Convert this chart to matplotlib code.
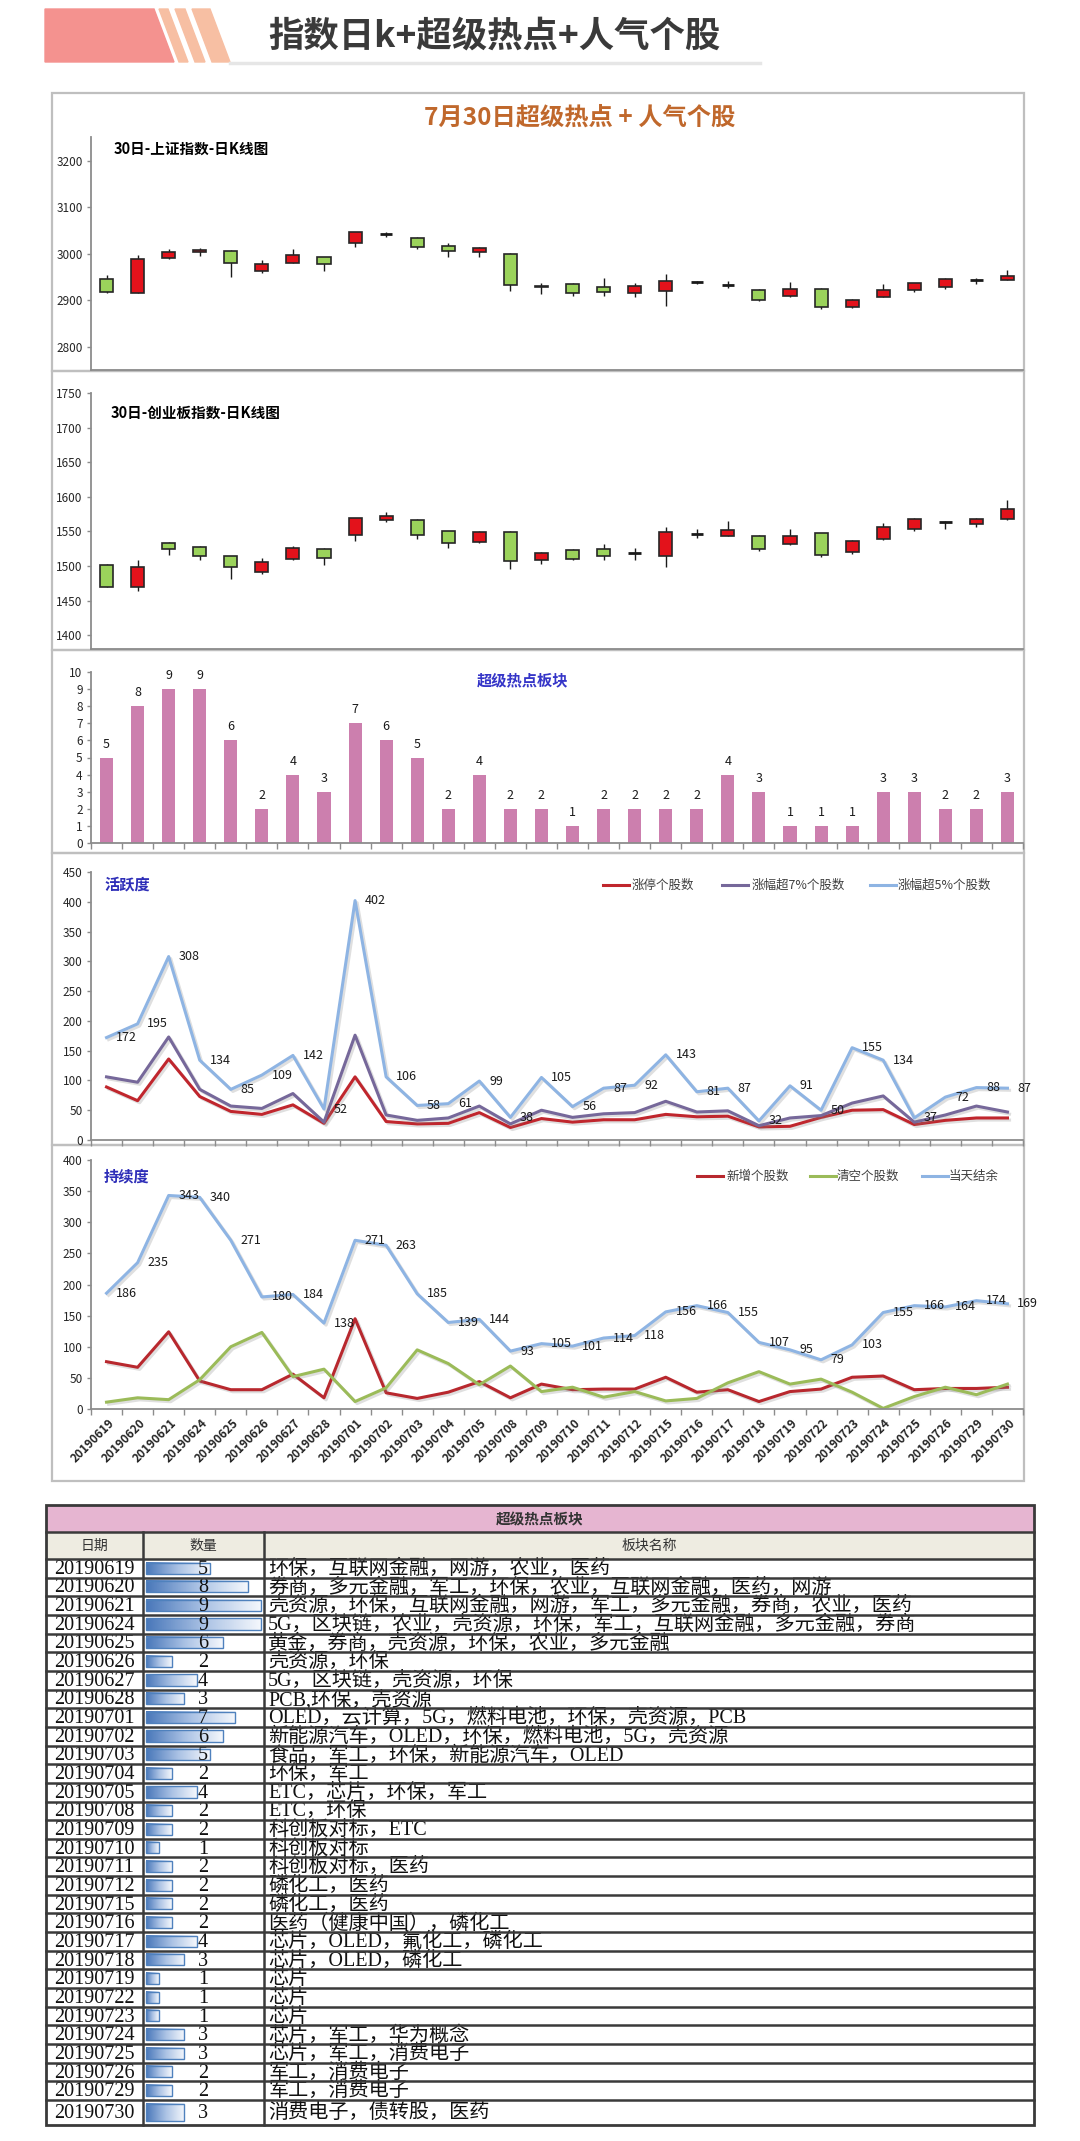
import numpy as np
import matplotlib.pyplot as plt
import matplotlib.patheffects as pe
from matplotlib.colors import LinearSegmentedColormap
from matplotlib.patches import Polygon, Rectangle
from matplotlib.transforms import ScaledTranslation

plt.rcParams['font.family'] = ['Noto Sans CJK SC', 'DejaVu Sans']

W, H = 1080, 2141

dates = ['20190619', '20190620', '20190621', '20190624', '20190625', '20190626',
         '20190627', '20190628', '20190701', '20190702', '20190703', '20190704',
         '20190705', '20190708', '20190709', '20190710', '20190711', '20190712',
         '20190715', '20190716', '20190717', '20190718', '20190719', '20190722',
         '20190723', '20190724', '20190725', '20190726', '20190729', '20190730']

# 上证指数 K线
sh_open = [2945, 2916, 2990, 3003, 3006, 2963, 2981, 2992, 3023, 3043, 3033, 3016, 3004, 2999, 2931,
           2936, 2929, 2915, 2920, 2939, 2933, 2923, 2910, 2925, 2886, 2908, 2923, 2928, 2942, 2944]
sh_close = [2917, 2989, 3003, 3009, 2981, 2978, 2998, 2978, 3046, 3044, 3015, 3005, 3012, 2933, 2929,
            2916, 2917, 2930, 2942, 2938, 2932, 2901, 2924, 2886, 2900, 2923, 2937, 2945, 2943, 2953]
sh_high = [2954, 2998, 3010, 3012, 3007, 2986, 3011, 2994, 3047, 3047, 3035, 3024, 3014, 3001, 2938,
           2937, 2947, 2938, 2956, 2941, 2942, 2924, 2940, 2927, 2902, 2936, 2938, 2948, 2948, 2965]
sh_low = [2915, 2915, 2989, 2995, 2949, 2959, 2980, 2962, 3015, 3035, 3010, 2992, 2992, 2920, 2913,
          2909, 2909, 2908, 2887, 2936, 2926, 2899, 2908, 2881, 2883, 2906, 2917, 2925, 2935, 2943]

# 创业板指数 K线
cy_open = [1502, 1470, 1533, 1528, 1514, 1491, 1510, 1525, 1545, 1566, 1567, 1550, 1535, 1549, 1508,
           1523, 1524, 1519, 1514, 1546, 1544, 1544, 1532, 1547, 1520, 1539, 1553, 1563, 1561, 1568]
cy_close = [1470, 1499, 1524, 1515, 1498, 1506, 1526, 1512, 1570, 1572, 1545, 1533, 1549, 1507, 1519,
            1510, 1514, 1518, 1549, 1546, 1552, 1525, 1544, 1516, 1536, 1556, 1568, 1564, 1568, 1582]
cy_high = [1503, 1508, 1535, 1529, 1515, 1512, 1529, 1526, 1570, 1578, 1568, 1551, 1551, 1550, 1520,
           1524, 1532, 1526, 1557, 1553, 1565, 1545, 1554, 1548, 1537, 1562, 1569, 1565, 1569, 1595]
cy_low = [1469, 1464, 1516, 1509, 1481, 1489, 1509, 1502, 1536, 1563, 1539, 1526, 1533, 1496, 1503,
          1508, 1509, 1508, 1498, 1540, 1543, 1522, 1531, 1513, 1518, 1538, 1551, 1553, 1556, 1567]

hot_count = [5, 8, 9, 9, 6, 2, 4, 3, 7, 6, 5, 2, 4, 2, 2, 1, 2, 2, 2, 2, 4, 3, 1, 1, 1, 3, 3, 2, 2, 3]

# 活跃度
zt_count = [89, 66, 136, 73, 48, 43, 59, 28, 106, 31, 27, 28, 46, 21, 36, 30, 34, 34, 43, 39,
            40, 22, 23, 38, 50, 51, 26, 33, 37, 37]
up7_count = [106, 97, 173, 85, 57, 53, 78, 30, 176, 42, 33, 37, 57, 27, 50, 38, 44, 46, 65, 47,
             49, 24, 37, 41, 62, 74, 30, 42, 57, 47]
up5_count = [172, 195, 308, 134, 85, 109, 142, 52, 402, 106, 58, 61, 99, 38, 105, 56, 87, 92, 143, 81,
             87, 32, 91, 50, 155, 134, 37, 72, 88, 87]

# 持续度
new_count = [76, 67, 124, 45, 31, 31, 56, 18, 145, 26, 17, 27, 44, 18, 40, 31, 32, 32, 51, 27,
             31, 12, 28, 32, 51, 53, 31, 33, 33, 35]
clear_count = [11, 18, 15, 47, 100, 123, 52, 64, 12, 34, 95, 73, 39, 69, 28, 35, 19, 28, 13, 17,
               42, 60, 40, 48, 27, 1, 20, 35, 23, 40]
remain_count = [186, 235, 343, 340, 271, 180, 184, 138, 271, 263, 185, 139, 144, 93, 105, 101, 114, 118,
                156, 166, 155, 107, 95, 79, 103, 155, 166, 164, 174, 169]

sectors = [
    '环保，互联网金融，网游，农业，医药',
    '券商，多元金融，军工，环保，农业，互联网金融，医药，网游',
    '壳资源，环保，互联网金融，网游，军工，多元金融，券商，农业，医药',
    '5G，区块链，农业，壳资源，环保，军工，互联网金融，多元金融，券商',
    '黄金，券商，壳资源，环保，农业，多元金融',
    '壳资源，环保',
    '5G，区块链，壳资源，环保',
    'PCB,环保，壳资源',
    'OLED，云计算，5G，燃料电池，环保，壳资源，PCB',
    '新能源汽车，OLED，环保，燃料电池，5G，壳资源',
    '食品，军工，环保，新能源汽车，OLED',
    '环保，军工',
    'ETC，芯片，环保，军工',
    'ETC，环保',
    '科创板对标，ETC',
    '科创板对标',
    '科创板对标，医药',
    '磷化工，医药',
    '磷化工，医药',
    '医药（健康中国），磷化工',
    '芯片，OLED，氟化工，磷化工',
    '芯片，OLED，磷化工',
    '芯片',
    '芯片',
    '芯片',
    '芯片，军工，华为概念',
    '芯片，军工，消费电子',
    '军工，消费电子',
    '军工，消费电子',
    '消费电子，债转股，医药',
]

x = np.arange(len(dates))
AXIS_C = '#8c8c8c'

fig = plt.figure(figsize=(W / 100, H / 100), dpi=100)
bg = fig.add_axes([0, 0, 1, 1], zorder=0)
bg.set_axis_off()


def make_ax(left, top, right, bottom, ylim, yticks):
    ax = fig.add_axes([left / W, 1 - bottom / H, (right - left) / W, (bottom - top) / H], zorder=1)
    ax.patch.set_alpha(0)
    for s in ['top', 'right']:
        ax.spines[s].set_visible(False)
    for s in ['left', 'bottom']:
        ax.spines[s].set_color(AXIS_C)
        ax.spines[s].set_linewidth(1.3)
    ax.set_xlim(-0.5, len(dates) - 0.5)
    ax.set_ylim(*ylim)
    ax.set_yticks(yticks)
    ax.tick_params(axis='y', labelsize=8.5, colors=AXIS_C, labelcolor='#262626', length=3, width=1, pad=3)
    return ax


def candles(ax, o, c, h, l):
    o, c = np.array(o), np.array(c)
    ax.vlines(x, l, h, color='#1a1a1a', lw=1, zorder=2)
    doji = np.abs(c - o) <= 1
    body = ~doji
    cols = np.where(c > o, '#E3121B', '#9BD35B')
    ax.bar(x[body], np.abs(c - o)[body], bottom=np.minimum(o, c)[body], width=0.42,
           color=cols[body], edgecolor='#262626', lw=1.2, zorder=3)
    ax.hlines(((o + c) / 2)[doji], x[doji] - 0.2, x[doji] + 0.2, color='#1a1a1a', lw=2, zorder=3)
    ax.set_xticks([])


def cat_ticks(ax):
    ax.set_xticks(np.arange(-0.5, len(dates), 1), minor=True)
    ax.tick_params(axis='x', which='minor', length=4, color=AXIS_C, width=1)


shadow = [pe.SimpleLineShadow(offset=(1.5, -1.5), alpha=0.25, shadow_color='gray'), pe.Normal()]

# ---- header ----
bg.add_patch(Polygon([(45, 9), (154, 9), (174, 62), (45, 62)], color='#F4928F'))
for a, b in [(159, 168), (175, 185), (192, 210)]:
    bg.add_patch(Polygon([(a, 9), (b, 9), (b + 20, 62), (a + 20, 62)], color='#F7BFA3'))
bg.plot([230, 760], [63, 63], color='#E6E6E6', lw=2.5)
bg.text(268, 36, '指数日k+超级热点+人气个股', fontsize=25.5, fontweight='bold', color='#3a3a3a',
        va='center', ha='left')

# ---- chart panel borders ----
for top, bot in [(93, 371), (371, 650), (650, 853), (853, 1145), (1145, 1481)]:
    bg.add_patch(Rectangle((52, top), 972, bot - top, fill=False, edgecolor='#BFBFBF', lw=1.6))

bg.text(580, 118, '7月30日超级热点 + 人气个股', fontsize=17.5, fontweight='bold', color='#C0682C',
        ha='center', va='center')

# 上证指数
ax1 = make_ax(91, 137.5, 1023, 370, (2750, 3250), np.arange(2800, 3201, 100))
candles(ax1, sh_open, sh_close, sh_high, sh_low)
bg.text(114, 149, '30日-上证指数-日K线图', fontsize=10.5, fontweight='bold', va='center')

# 创业板指数
ax2 = make_ax(91, 393, 1023, 649, (1380, 1750), np.arange(1400, 1751, 50))
candles(ax2, cy_open, cy_close, cy_high, cy_low)
bg.text(111, 413, '30日-创业板指数-日K线图', fontsize=10.5, fontweight='bold', va='center')

# 超级热点板块 柱状图
ax3 = make_ax(91, 672, 1023, 843, (0, 10), np.arange(0, 11, 1))
ax3.bar(x, hot_count, width=0.42, color='#CC7FAE', zorder=2)
for i, v in enumerate(hot_count):
    ax3.annotate(str(v), (i, v), xytext=(0, 5), textcoords='offset points', ha='center', va='bottom',
                 fontsize=9, color='#1a1a1a')
ax3.set_xticks([])
cat_ticks(ax3)
bg.text(523, 680, '超级热点板块', fontsize=11, fontweight='bold', color='#3535C8', ha='center', va='center')

# 活跃度
ax4 = make_ax(91, 872, 1023, 1140, (0, 450), np.arange(0, 451, 50))
ax4.plot(x, zt_count, color='#C0262D', lw=2.2, path_effects=shadow)
ax4.plot(x, up7_count, color='#76689A', lw=2.2, path_effects=shadow)
ax4.plot(x, up5_count, color='#8EB4E3', lw=2.2, path_effects=shadow)
for i, v in enumerate(up5_count):
    ax4.annotate(str(v), (i, v), xytext=(7, 0), textcoords='offset points', ha='left', va='center',
                 fontsize=9, color='#1a1a1a')
ax4.set_xticks([])
cat_ticks(ax4)
bg.text(104, 885, '活跃度', fontsize=11, fontweight='bold', color='#2E2EB8', va='center')
for x0, tx, col, lab in [(603, 632, '#C0262D', '涨停个股数'), (722, 752, '#76689A', '涨幅超7%个股数'),
                         (870, 898, '#8EB4E3', '涨幅超5%个股数')]:
    bg.plot([x0, x0 + 26], [885, 885], color=col, lw=2.2)
    bg.text(tx, 885, lab, fontsize=9, color='#404040', va='center')

# 持续度
ax5 = make_ax(91, 1160, 1023, 1409, (0, 400), np.arange(0, 401, 50))
ax5.plot(x, new_count, color='#B8282E', lw=2.2, path_effects=shadow)
ax5.plot(x, clear_count, color='#9BBB59', lw=2.2, path_effects=shadow)
ax5.plot(x, remain_count, color='#8EB4E3', lw=2.2, path_effects=shadow)
for i, v in enumerate(remain_count):
    ax5.annotate(str(v), (i, v), xytext=(7, 0), textcoords='offset points', ha='left', va='center',
                 fontsize=9, color='#1a1a1a')
ax5.set_xticks(x)
ax5.set_xticklabels(dates, rotation=45, ha='right', va='center', rotation_mode='anchor',
                    fontsize=8.5, fontweight='bold', color='#262626')
ax5.tick_params(axis='x', which='major', length=0, pad=9)
for lab in ax5.get_xticklabels():
    lab.set_transform(lab.get_transform() + ScaledTranslation(4 / 72, 0, fig.dpi_scale_trans))
cat_ticks(ax5)
bg.text(104, 1176, '持续度', fontsize=11, fontweight='bold', color='#2E2EB8', va='center')
for x0, tx, col, lab in [(697, 726, '#B8282E', '新增个股数'), (810, 837, '#9BBB59', '清空个股数'),
                         (922, 949, '#8EB4E3', '当天结余')]:
    bg.plot([x0, x0 + 26], [1176, 1176], color=col, lw=2.2)
    bg.text(tx, 1176, lab, fontsize=9, color='#404040', va='center')

# ---- table ----
TL, TR, TT = 46, 1034, 1505
C1, C2 = 143, 264
row_h = (2100 - 1559) / 29
row_tops = [1559 + r * row_h for r in range(29)] + [2100]
row_bots = row_tops[1:] + [2125]
line_c = '#3a3a3a'
tfont = ['Liberation Serif', 'Noto Sans CJK SC']

bg.add_patch(Rectangle((TL, TT), TR - TL, 27, facecolor='#E6B5D1', edgecolor='none'))
bg.add_patch(Rectangle((TL, 1532), TR - TL, 27, facecolor='#EEECE1', edgecolor='none'))
bg.text((TL + TR) / 2, 1519, '超级热点板块', fontsize=10.5, fontweight='bold', color='#333333',
        ha='center', va='center')
for cx, lab in [((TL + C1) / 2, '日期'), ((C1 + C2) / 2, '数量'), ((C2 + TR) / 2, '板块名称')]:
    bg.text(cx, 1546, lab, fontsize=10, color='#333333', ha='center', va='center')

bar_cmap = LinearSegmentedColormap.from_list('tb', ['#4A78BA', '#A9C1E4', '#F4F7FC'])
grad = np.linspace(0, 1, 64).reshape(1, -1)
for r, (d, n, txt) in enumerate(zip(dates, hot_count, sectors)):
    t, b = row_tops[r], row_bots[r]
    cy = (t + b) / 2 + 1
    bg.text((TL + C1) / 2, cy, d, fontsize=14.5, family=tfont, color='#111111', ha='center', va='center')
    bx1 = 146 + 12.75 * n
    bg.imshow(grad, cmap=bar_cmap, extent=[146, bx1, b - 4, t + 3.5], aspect='auto', zorder=3)
    bg.add_patch(Rectangle((146, t + 3.5), bx1 - 146, b - t - 7.5, fill=False, edgecolor='#4F81BD',
                           lw=1, zorder=4))
    bg.text(203, cy, str(n), fontsize=14.5, family=tfont, color='#111111', ha='center', va='center', zorder=5)
    bg.text(268, cy, txt, fontsize=14.5, family=tfont, color='#111111', ha='left', va='center')

for y in [1532, 1559] + row_bots[:-1]:
    bg.plot([TL, TR], [y, y], color=line_c, lw=1.8, zorder=6)
for xc in [C1, C2]:
    bg.plot([xc, xc], [1532, 2125], color=line_c, lw=1.8, zorder=6)
bg.add_patch(Rectangle((TL, TT), TR - TL, 2125 - TT, fill=False, edgecolor=line_c, lw=2, zorder=6))

bg.set_xlim(0, W)
bg.set_ylim(H, 0)

fig.savefig('out.png', dpi=100)
